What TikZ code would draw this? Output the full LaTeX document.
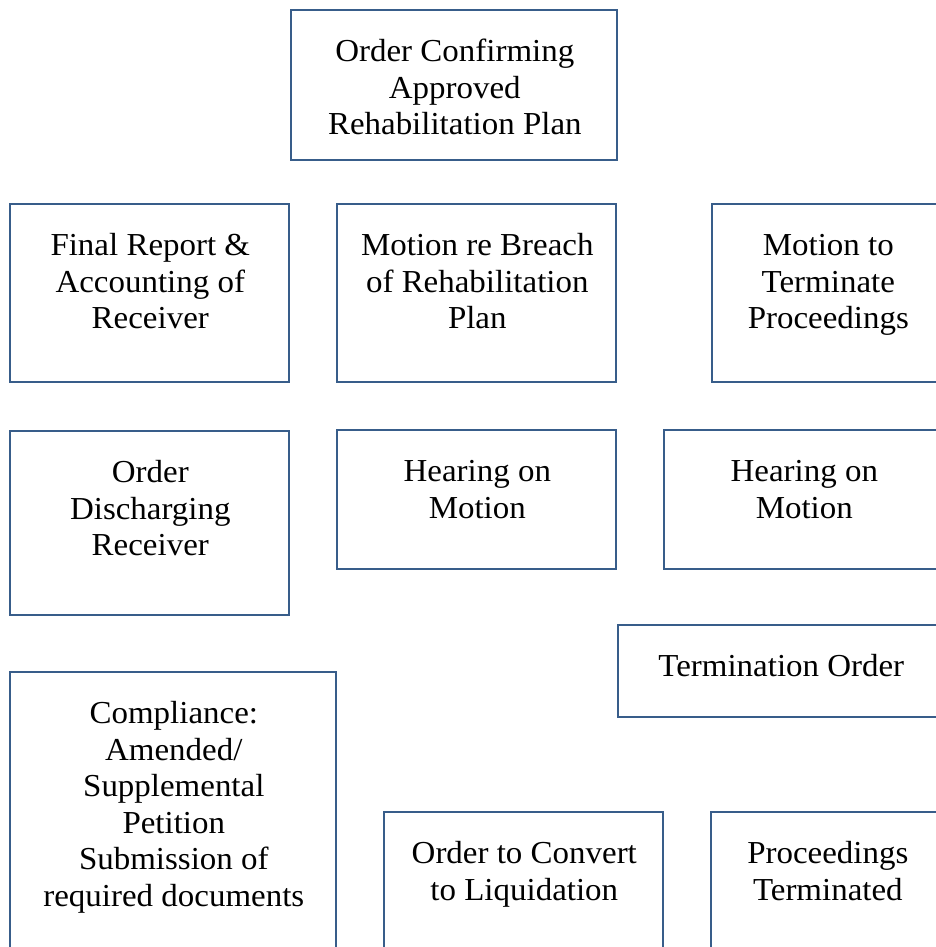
\documentclass[tikz,border=0pt]{standalone}
\usepackage{fontspec}
\setmainfont{Liberation Serif}[FakeStretch=1.03]
\usetikzlibrary{calc}
\definecolor{boxline}{RGB}{56,93,138}
\tikzset{
  box/.style={draw=boxline, line width=1.6pt, rectangle, inner sep=0pt},
  label/.style={anchor=base, align=flush center, inner sep=0pt,
    font=\fontsize{32}{36.6}\selectfont}
}
% place a box by its corners (x1,y1)-(x2,y2) and a top-anchored caption
\newcommand{\stepnode}[6]{%
  \path[box] (#2,#3) rectangle (#4,#5);
  \node[box, draw=none, minimum width={(#4-#2)*1pt}, minimum height={(#5-#3)*1pt}, anchor=north west] (#1) at (#2,#3) {};
  \node[label, text width={(#4-#2-12)*1pt}] (#1t) at ($(#1.north)+(0,51.5)$) {#6};
}
\begin{document}
\begin{tikzpicture}[x=1pt, y=-1pt]
  \useasboundingbox (0,0) rectangle (936,947);
  \clip (0,0) rectangle (936,947);
  \fill[white] (0,0) rectangle (936,947);

  \stepnode{confirm}{291}{10}{617}{160}{Order Confirming\\Approved\\Rehabilitation Plan}
  \stepnode{final}{10}{204}{289}{382}{Final Report \&\\Accounting of\\Receiver}
  \stepnode{breach}{337}{204}{616}{382}{Motion re Breach\\of Rehabilitation\\Plan}
  \stepnode{terminate}{712}{204}{943}{382}{Motion to\\Terminate\\Proceedings}
  \stepnode{discharge}{10}{431}{289}{615}{Order\\Discharging\\Receiver}
  \stepnode{hearA}{337}{430}{616}{569}{Hearing on\\Motion}
  \stepnode{hearB}{664}{430}{943}{569}{Hearing on\\Motion}
  \stepnode{termorder}{618}{625}{943}{717}{Termination Order}
  \stepnode{comply}{10}{672}{336}{990}{Compliance:\\Amended/\\Supplemental\\Petition\\Submission of\\required documents}
  \stepnode{convert}{384}{812}{663}{990}{Order to Convert\\to Liquidation}
  \stepnode{ended}{711}{812}{943}{990}{Proceedings\\Terminated}
\end{tikzpicture}
\end{document}
